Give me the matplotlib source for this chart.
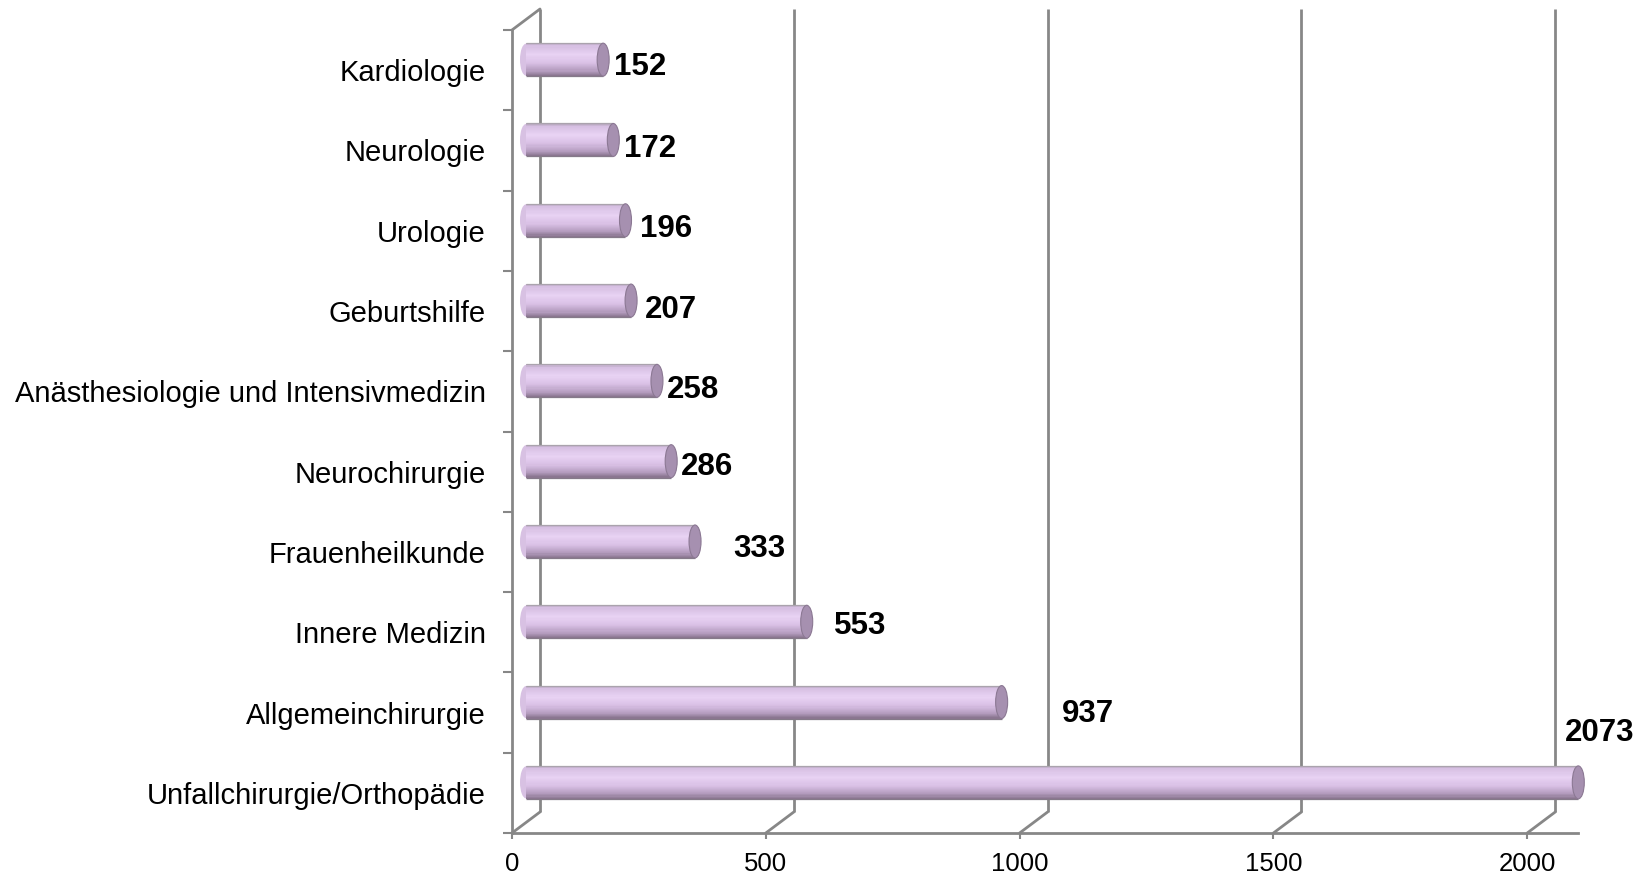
import numpy as np
import matplotlib.pyplot as plt
import matplotlib.transforms as mtransforms
from matplotlib.patches import Ellipse
from matplotlib.colors import LinearSegmentedColormap

# data (top to bottom)
categories = ["Kardiologie", "Neurologie", "Urologie", "Geburtshilfe",
              "Anästhesiologie und Intensivmedizin", "Neurochirurgie",
              "Frauenheilkunde", "Innere Medizin", "Allgemeinchirurgie",
              "Unfallchirurgie/Orthopädie"]
values = [152, 172, 196, 207, 258, 286, 333, 553, 937, 2073]
xticks = [0, 500, 1000, 1500, 2000]

# label placement in pixels (dx from bar end, dy downward from bar centre)
label_dx = [11, 11, 15, 14, 10, 10, 38, 27, 60, -13]
label_dy = [7, 9, 9, 9, 9, 6, 8, 4, 12, -49]

plt.rcParams['font.family'] = ['Liberation Sans', 'DejaVu Sans']

W, H = 1652, 876
fig = plt.figure(figsize=(W / 100, H / 100), dpi=100)
ax = fig.add_axes([512 / W, (H - 833) / H, (1578 - 512) / W, (833 - 30) / H])

n = len(categories)
y = np.arange(n)
ax.set_xlim(0, 2100)
ax.set_ylim(n - 0.5, -0.5)

grid_c = '#878787'
lw = 2.0

# depth offsets (back wall and middle plane for bars)
back = mtransforms.offset_copy(ax.transData, fig=fig, x=28, y=21, units='dots')
mid = mtransforms.offset_copy(ax.transData, fig=fig, x=14, y=10.5, units='dots')

# back wall gridlines
ax.vlines(xticks, -0.5, n - 0.5, transform=back, color=grid_c, lw=lw, clip_on=False, zorder=1)
# floor diagonals
for xt in xticks:
    ax.annotate("", xy=(xt, n - 0.5), xytext=(28, 21), textcoords='offset pixels',
                arrowprops=dict(arrowstyle='-', color=grid_c, lw=lw, shrinkA=0, shrinkB=0),
                annotation_clip=False, zorder=1)
# left wall top diagonal
ax.annotate("", xy=(0, -0.5), xytext=(28, 21), textcoords='offset pixels',
            arrowprops=dict(arrowstyle='-', color=grid_c, lw=lw, shrinkA=0, shrinkB=0),
            annotation_clip=False, zorder=1)

# cylinder bars
bar_h = 0.41
cmap = LinearSegmentedColormap.from_list('cyl', [
    (0.0, '#b7a7be'), (0.08, '#d6bfe2'), (0.35, '#e8d2f3'),
    (0.6, '#d9c0e5'), (0.85, '#b39bbd'), (1.0, '#86728c')])
nb = 30
edges = np.linspace(-bar_h / 2, bar_h / 2, nb + 1)
cap_w = 12 / (ax.get_position().width * W / 2100)

for i, v in enumerate(values):
    ax.add_patch(Ellipse((0, y[i]), cap_w, bar_h * 0.97, transform=mid, facecolor='#d8c1e3',
                         edgecolor='none', clip_on=False, zorder=2))
for k in range(nb):
    c = cmap((k + 0.5) / nb)
    ax.barh(y + (edges[k] + edges[k + 1]) / 2, values, height=bar_h / nb * 1.05, left=0,
            color=c, transform=mid, clip_on=False, zorder=3, linewidth=0)
ax.hlines(y - bar_h / 2, 0, values, transform=mid, color='#aaa3ad', lw=0.9, clip_on=False, zorder=4)
ax.hlines(y + bar_h / 2, 0, values, transform=mid, color='#857a89', lw=0.9, clip_on=False, zorder=4)
for i, v in enumerate(values):
    ax.add_patch(Ellipse((v, y[i]), cap_w, bar_h, transform=mid, facecolor='#a690b0',
                         edgecolor='#8b7893', lw=0.8, clip_on=False, zorder=5))

# value labels
for i, v in enumerate(values):
    ax.annotate(str(v), xy=(v, y[i]), xycoords=mid, xytext=(label_dx[i], -label_dy[i]),
                textcoords='offset pixels', ha='left', va='center', fontsize=22.5,
                fontweight='bold', color='black', annotation_clip=False, zorder=6)

# front axes
for s in ['top', 'right']:
    ax.spines[s].set_visible(False)
for s in ['left', 'bottom']:
    ax.spines[s].set_color(grid_c)
    ax.spines[s].set_linewidth(lw)
    ax.spines[s].set_zorder(2)

ax.set_yticks(y)
ax.set_yticklabels(categories, fontsize=21)
ax.set_yticks(np.arange(n + 1) - 0.5, minor=True)
ax.tick_params(axis='y', which='major', length=0, pad=19)
ax.tick_params(axis='y', which='minor', length=6.5, width=1.5, color=grid_c)
ax.set_xticks(xticks)
ax.set_xticklabels([str(t) for t in xticks], fontsize=18.5)
ax.tick_params(axis='x', which='major', length=4.5, width=1.5, color=grid_c, pad=9)
ax.set_facecolor('none')

fig.savefig('out.png', dpi=100)
